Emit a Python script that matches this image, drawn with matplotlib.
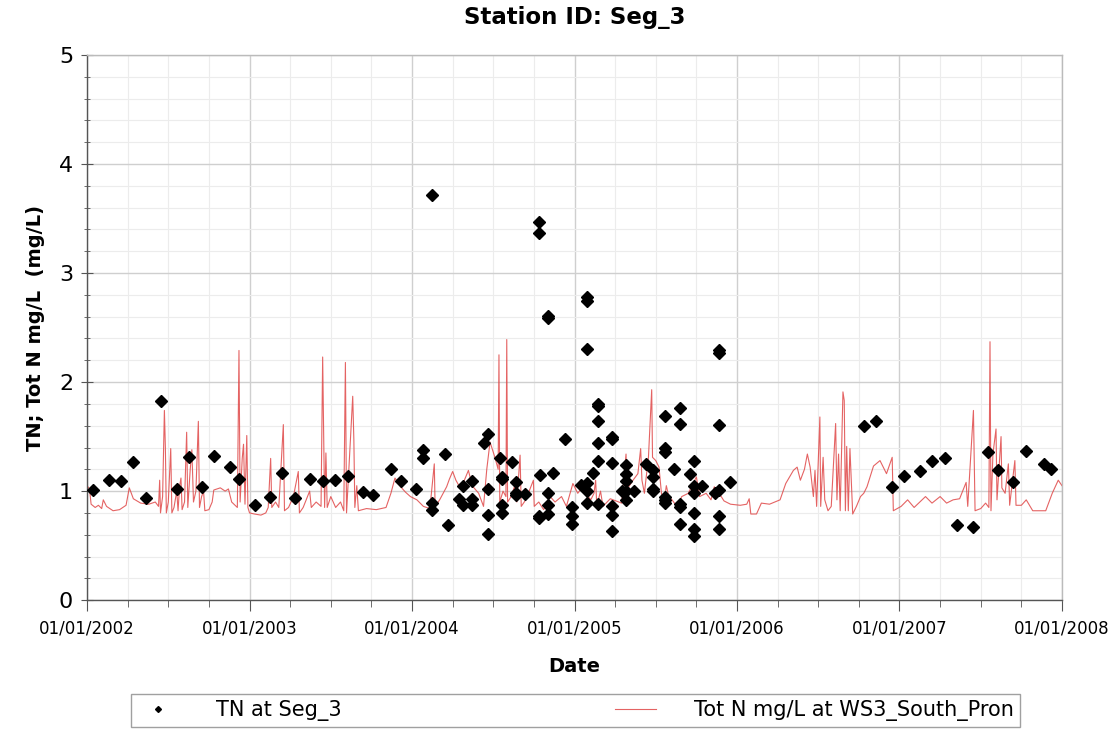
import matplotlib
matplotlib.use('Agg')
import matplotlib.pyplot as plt
from matplotlib.ticker import MultipleLocator, FixedLocator, FuncFormatter
import numpy as np

plt.rcParams.update({
    'font.family': 'DejaVu Sans',
    'axes.linewidth': 1.0,
})

# TN samples at Seg_3 (decimal year, mg/L)
tn_t = [2002.035, 2002.133, 2002.21, 2002.285, 2002.36, 2002.457, 2002.552, 2002.63, 2002.708,
        2002.783, 2002.88, 2002.937, 2003.032, 2003.126, 2003.202, 2003.282, 2003.374, 2003.452,
        2003.528, 2003.604, 2003.70, 2003.76, 2003.873, 2003.93, 2004.025, 2004.07, 2004.07,
        2004.12, 2004.125, 2004.125, 2004.2, 2004.223, 2004.29, 2004.316, 2004.316, 2004.372,
        2004.372, 2004.372, 2004.443, 2004.47, 2004.47, 2004.47, 2004.47, 2004.543, 2004.556,
        2004.556, 2004.556, 2004.556, 2004.617, 2004.64, 2004.64, 2004.64, 2004.695, 2004.783,
        2004.783, 2004.783, 2004.783, 2004.79, 2004.835, 2004.835, 2004.838, 2004.838, 2004.838,
        2004.868, 2004.944, 2004.983, 2004.983, 2004.983, 2005.04, 2005.075, 2005.075, 2005.075,
        2005.075, 2005.075, 2005.075, 2005.116, 2005.147, 2005.147, 2005.147, 2005.147, 2005.147,
        2005.147, 2005.23, 2005.23, 2005.23, 2005.23, 2005.23, 2005.23, 2005.29, 2005.314,
        2005.314, 2005.314, 2005.314, 2005.314, 2005.366, 2005.44, 2005.48, 2005.48, 2005.48,
        2005.48, 2005.557, 2005.557, 2005.557, 2005.557, 2005.557, 2005.557, 2005.61, 2005.65,
        2005.65, 2005.65, 2005.65, 2005.65, 2005.71, 2005.735, 2005.735, 2005.735, 2005.735,
        2005.735, 2005.735, 2005.785, 2005.865, 2005.89, 2005.89, 2005.89, 2005.89, 2005.89,
        2005.89, 2005.957, 2006.782, 2006.855, 2006.954, 2007.03, 2007.126, 2007.2, 2007.28,
        2007.355, 2007.45, 2007.547, 2007.605, 2007.70, 2007.776, 2007.89, 2007.93]
tn_v = [1.01, 1.10, 1.09, 1.27, 0.94, 1.83, 1.02, 1.31, 1.04,
        1.32, 1.22, 1.11, 0.87, 0.95, 1.17, 0.94, 1.11, 1.09,
        1.10, 1.14, 0.99, 0.96, 1.20, 1.09, 1.02, 1.38, 1.30,
        3.72, 0.89, 0.83, 1.34, 0.69, 0.93, 1.05, 0.87, 1.09,
        0.93, 0.87, 1.44, 1.52, 1.02, 0.78, 0.61, 1.30, 1.13,
        1.11, 0.87, 0.80, 1.27, 1.08, 0.98, 0.96, 0.97, 3.47,
        3.37, 0.77, 0.75, 1.15, 2.61, 2.59, 0.98, 0.87, 0.79,
        1.17, 1.48, 0.85, 0.77, 0.70, 1.06, 2.78, 2.74, 2.30,
        1.07, 1.00, 0.89, 1.17, 1.80, 1.78, 1.64, 1.44, 1.28,
        0.88, 1.50, 1.48, 1.26, 0.86, 0.78, 0.63, 1.00, 1.24,
        1.16, 1.09, 1.00, 0.92, 1.00, 1.25, 1.19, 1.13, 1.02,
        1.00, 1.69, 1.40, 1.36, 0.95, 0.92, 0.89, 1.20, 1.76,
        1.62, 0.88, 0.85, 0.70, 1.16, 1.28, 1.05, 0.98, 0.80,
        0.65, 0.59, 1.05, 0.98, 2.29, 2.27, 1.61, 1.01, 0.77,
        0.65, 1.08, 1.60, 1.64, 1.04, 1.14, 1.18, 1.28, 1.30,
        0.69, 0.67, 1.36, 1.19, 1.08, 1.37, 1.25, 1.20]

# modelled Tot N at WS3_South_Pron (decimal year, mg/L)
ws3_t = [2002.000, 2002.015, 2002.025, 2002.05, 2002.07, 2002.09, 2002.10, 2002.12, 2002.16, 2002.20,
         2002.24, 2002.26, 2002.285, 2002.33, 2002.38, 2002.42, 2002.44, 2002.447, 2002.452, 2002.465,
         2002.476, 2002.482, 2002.488, 2002.50, 2002.515, 2002.522, 2002.535, 2002.552, 2002.56, 2002.57,
         2002.578, 2002.585, 2002.60, 2002.613, 2002.62, 2002.635, 2002.645, 2002.655, 2002.67, 2002.685,
         2002.692, 2002.705, 2002.717, 2002.725, 2002.75, 2002.77, 2002.78, 2002.82, 2002.85, 2002.87,
         2002.89, 2002.925, 2002.935, 2002.942, 2002.955, 2002.963, 2002.972, 2002.983, 2002.99, 2003.00,
         2003.03, 2003.07, 2003.10, 2003.115, 2003.13, 2003.137, 2003.16, 2003.18, 2003.208, 2003.215,
         2003.24, 2003.27, 2003.30, 2003.307, 2003.33, 2003.37, 2003.38, 2003.41, 2003.44, 2003.45,
         2003.456, 2003.462, 2003.47, 2003.478, 2003.50, 2003.53, 2003.56, 2003.58, 2003.59, 2003.597,
         2003.615, 2003.635, 2003.642, 2003.648, 2003.66, 2003.67, 2003.72, 2003.78, 2003.84, 2003.87,
         2003.895, 2003.93, 2003.96, 2003.99, 2004.03, 2004.07, 2004.11, 2004.137, 2004.142, 2004.17,
         2004.213, 2004.23, 2004.25, 2004.27, 2004.30, 2004.347, 2004.37, 2004.41, 2004.44, 2004.46,
         2004.48, 2004.51, 2004.53, 2004.535, 2004.54, 2004.56, 2004.578, 2004.583, 2004.588, 2004.61,
         2004.63, 2004.645, 2004.665, 2004.672, 2004.70, 2004.747, 2004.752, 2004.78, 2004.81, 2004.85,
         2004.88, 2004.92, 2004.95, 2004.99, 2005.02, 2005.05, 2005.07, 2005.10, 2005.12, 2005.13,
         2005.137, 2005.16, 2005.175, 2005.22, 2005.29, 2005.317, 2005.325, 2005.36, 2005.39, 2005.407,
         2005.415, 2005.43, 2005.455, 2005.475, 2005.48, 2005.50, 2005.52, 2005.535, 2005.55, 2005.565,
         2005.58, 2005.60, 2005.63, 2005.66, 2005.70, 2005.75, 2005.77, 2005.81, 2005.84, 2005.86,
         2005.89, 2005.92, 2005.96, 2006.02, 2006.06, 2006.075, 2006.085, 2006.12, 2006.15, 2006.20,
         2006.265, 2006.30, 2006.347, 2006.37, 2006.39, 2006.415, 2006.433, 2006.45, 2006.47, 2006.48,
         2006.49, 2006.51, 2006.515, 2006.53, 2006.54, 2006.56, 2006.58, 2006.607, 2006.615, 2006.625,
         2006.635, 2006.652, 2006.66, 2006.667, 2006.675, 2006.685, 2006.695, 2006.712, 2006.735, 2006.76,
         2006.78, 2006.80, 2006.84, 2006.88, 2006.92, 2006.955, 2006.962, 2007.01, 2007.05, 2007.09,
         2007.16, 2007.20, 2007.25, 2007.29, 2007.33, 2007.37, 2007.41, 2007.42, 2007.455, 2007.465,
         2007.50, 2007.53, 2007.55, 2007.557, 2007.563, 2007.575, 2007.594, 2007.60, 2007.625, 2007.63,
         2007.65, 2007.67, 2007.678, 2007.71, 2007.717, 2007.75, 2007.78, 2007.82, 2007.90, 2007.94,
         2007.977, 2008.0]
ws3_v = [1.05, 1.02, 0.88, 0.85, 0.87, 0.84, 0.92, 0.86, 0.82, 0.83,
         0.87, 1.03, 0.93, 0.89, 0.88, 0.90, 0.86, 1.10, 0.80, 0.95,
         1.74, 1.40, 0.80, 0.90, 1.39, 0.80, 0.85, 1.00, 0.82, 1.05,
         1.12, 0.83, 0.90, 1.54, 0.85, 1.20, 1.38, 0.90, 1.00, 1.64,
         0.85, 0.95, 1.00, 0.82, 0.83, 0.90, 1.01, 1.03, 1.00, 1.02,
         0.90, 0.85, 2.29, 0.90, 1.30, 1.43, 0.88, 1.51, 0.85, 0.80,
         0.79, 0.78, 0.80, 0.85, 1.30, 0.85, 0.90, 0.85, 1.61, 0.82,
         0.85, 0.95, 1.18, 0.80, 0.85, 1.00, 0.85, 0.90, 0.86, 2.23,
         1.50, 0.85, 1.35, 0.85, 0.95, 0.85, 0.90, 0.82, 2.18, 0.80,
         1.30, 1.87, 1.47, 0.85, 1.05, 0.82, 0.84, 0.83, 0.85, 0.98,
         1.12, 1.04, 0.99, 0.95, 0.92, 0.86, 0.84, 1.25, 0.86, 0.92,
         1.04, 1.11, 1.18, 1.10, 1.02, 1.19, 1.05, 0.98, 0.86, 1.20,
         1.45, 1.31, 1.20, 2.25, 0.90, 1.00, 0.95, 2.39, 0.90, 0.95,
         1.04, 0.90, 1.33, 0.86, 0.92, 1.10, 0.86, 0.90, 0.83, 0.95,
         0.90, 0.95, 0.86, 1.07, 0.98, 1.04, 0.98, 0.92, 0.98, 1.10,
         0.86, 1.00, 0.86, 0.93, 0.89, 1.34, 1.02, 1.10, 1.16, 1.39,
         1.10, 0.98, 1.31, 1.93, 1.31, 1.28, 1.22, 0.98, 0.89, 1.05,
         0.95, 0.92, 0.86, 0.95, 0.98, 1.13, 0.95, 0.98, 0.92, 1.04,
         0.98, 0.91, 0.88, 0.87, 0.88, 0.93, 0.79, 0.79, 0.89, 0.88,
         0.92, 1.07, 1.19, 1.22, 1.10, 1.20, 1.34, 1.22, 0.95, 1.19,
         0.86, 1.68, 0.86, 1.31, 0.92, 0.82, 0.86, 1.62, 0.92, 1.34,
         0.82, 1.91, 1.83, 0.82, 1.41, 0.82, 1.39, 0.79, 0.86, 0.95,
         0.98, 1.04, 1.23, 1.28, 1.16, 1.31, 0.82, 0.86, 0.92, 0.85,
         0.95, 0.89, 0.95, 0.89, 0.92, 0.93, 1.08, 0.86, 1.74, 0.82,
         0.84, 0.89, 0.85, 2.37, 0.82, 1.34, 1.57, 0.92, 1.50, 1.03,
         0.98, 1.25, 0.87, 1.28, 0.87, 0.87, 0.92, 0.82, 0.82, 0.98,
         1.10, 1.05]

years = [2002, 2003, 2004, 2005, 2006, 2007, 2008]

fig = plt.figure(figsize=(11.16, 7.31), dpi=100)
ax = fig.add_axes([0.078, 0.179, 0.8736, 0.7458])

ax.plot(ws3_t, ws3_v, color='#e04848', lw=0.8, alpha=0.85, zorder=2,
        label='Tot N mg/L at WS3_South_Pron')
ax.plot(tn_t, tn_v, ls='none', marker='D', ms=6, color='black', zorder=3,
        label='TN at Seg_3')

ax.set_xlim(2002, 2008)
ax.set_ylim(0, 5)
ax.xaxis.set_major_locator(FixedLocator(years))
ax.xaxis.set_minor_locator(MultipleLocator(0.25))
ax.xaxis.set_major_formatter(FuncFormatter(lambda v, p: '01/01/%d' % round(v)))
ax.yaxis.set_major_locator(MultipleLocator(1))
ax.yaxis.set_minor_locator(MultipleLocator(0.2))

ax.grid(which='major', color='#cfcfcf', lw=1.0, zorder=0)
ax.grid(which='minor', color='#ececec', lw=0.8, zorder=0)
ax.set_axisbelow(True)

for s in ['top', 'right']:
    ax.spines[s].set_color('#bbbbbb')
for s in ['left', 'bottom']:
    ax.spines[s].set_color('#555555')

ax.tick_params(axis='y', which='major', labelsize=16, direction='inout', length=8, color='#555555', pad=6)
ax.tick_params(axis='y', which='minor', direction='inout', length=5, color='#555555')
ax.tick_params(axis='x', which='major', labelsize=12, direction='out', length=8, color='#555555', pad=6)
ax.tick_params(axis='x', which='minor', direction='out', length=5, color='#555555')

ax.set_title('Station ID: Seg_3', fontsize=16.5, fontweight='bold', pad=22)
ax.set_xlabel('Date', fontsize=14, fontweight='bold', labelpad=14)
ax.set_ylabel('TN; Tot N mg/L  (mg/L)', fontsize=14, fontweight='bold', labelpad=10)

handles, labels = ax.get_legend_handles_labels()
leg = fig.legend(handles[::-1], labels[::-1], ncol=2, mode='expand',
                 bbox_to_anchor=(0.117, 0.005, 0.797, 0.04), loc='lower left',
                 fontsize=15, frameon=True, fancybox=False, edgecolor='#888888',
                 markerscale=0.5, handlelength=2.0, handletextpad=1.8,
                 borderpad=0.3, borderaxespad=0)
leg.get_frame().set_linewidth(1.0)

fig.savefig('out.png', dpi=100)
